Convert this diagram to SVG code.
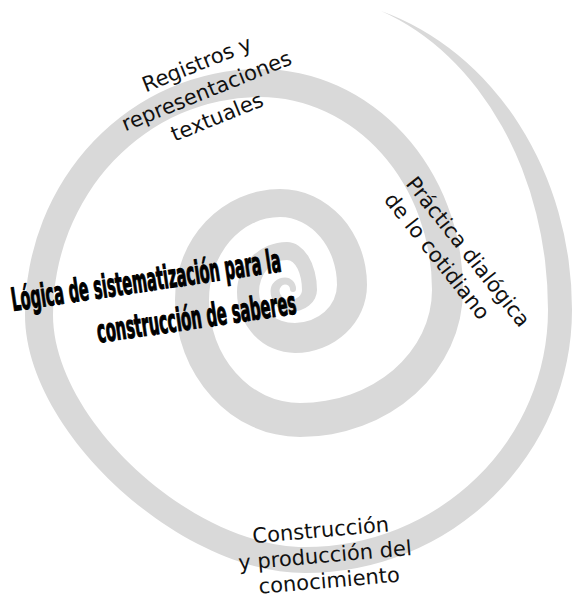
<svg xmlns="http://www.w3.org/2000/svg" width="574" height="598" viewBox="0 0 574 598">
<style>
.band{fill:#d9d9d9;stroke:none}
.lbl{font-family:"DejaVu Sans","Liberation Sans",sans-serif;font-size:21px;fill:#111}
.bold{font-family:"DejaVu Sans Condensed","DejaVu Sans","Liberation Sans",sans-serif;font-weight:bold;font-size:32px;fill:#000;stroke:#000;stroke-width:1.1px;stroke-linejoin:round}
</style>
<rect width="574" height="598" fill="#fff"/>
<g id="spiral">
<path class="band" d="M 381 11 A 272 313 0 0 1 572 310 A 267 263 0 0 1 305 573 C 179 573 25 431 25 315 A 235 246 0 0 1 260 69 A 203 221 0 0 1 463 290 A 163 147 0 0 1 300 437 A 125 137 0 0 1 175 300 A 105 111 0 0 1 280 189 A 87 96 0 0 1 367 285 A 72 68 0 0 1 295 353 A 58 61 0 0 1 237 292 A 50 50 0 0 1 287 242 A 30 48 0 0 1 317 290 A 27 22 0 0 1 290 312 A 19.5 21 0 0 1 270.5 291 A 14.5 13.5 0 0 1 285 277.5 A 11 11.5 0 0 1 296 289 A 3 3 0 0 1 290 289 A 5 4.5 0 0 0 285 284.5 A 5.5 6.5 0 0 0 279.5 291 A 10.5 9 0 0 0 290 300 A 12 10 0 0 0 302 290 A 15 30 0 0 0 287 260 A 28 32 0 0 0 259 292 A 36 31 0 0 0 295 323 A 42 38 0 0 0 337 285 A 57 68 0 0 0 280 217 A 71 83 0 0 0 209 300 A 91 103 0 0 0 300 403 A 132 113 0 0 0 432 290 A 172 193 0 0 0 260 97 A 207 218 0 0 0 53 315 C 53 419 192 547 305 547 A 243 237 0 0 0 548 310 A 248 316 0 0 0 381 11 Z"/>
</g>
<g id="label-registros" transform="translate(207,92) rotate(-22)">
<text class="lbl" text-anchor="middle" x="1" y="-22.5">Registros y</text>
<text class="lbl" text-anchor="middle" x="0" y="6">representaciones</text>
<text class="lbl" text-anchor="middle" x="0" y="34">textuales</text>
</g>
<g id="label-practica" transform="translate(405,184) rotate(51.5)">
<text class="lbl" x="0" y="0">Práctica dialógica</text>
<text class="lbl" x="-1" y="27">de lo cotidiano</text>
</g>
<g id="label-logica" transform="translate(13,311) rotate(-8.4)">
<text class="bold" x="0" y="0" textLength="272" lengthAdjust="spacingAndGlyphs">Lógica de sistematización para la</text>
<text class="bold" x="80" y="44" textLength="201" lengthAdjust="spacingAndGlyphs">construcción de saberes</text>
</g>
<g id="label-construccion" transform="translate(325,556) rotate(-5)">
<text class="lbl" text-anchor="middle" x="-2" y="-19">Construcción</text>
<text class="lbl" text-anchor="middle" x="0" y="6.5">y producción del</text>
<text class="lbl" text-anchor="middle" x="2" y="32">conocimiento</text>
</g>
</svg>
